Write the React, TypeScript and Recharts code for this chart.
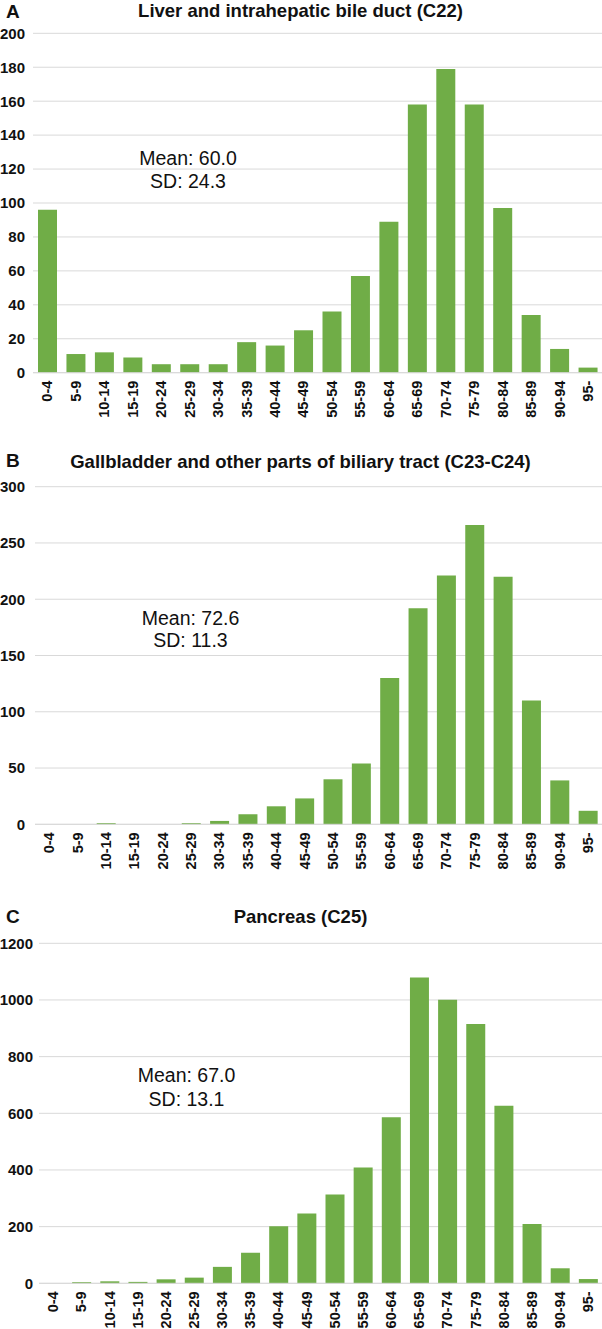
import React from 'react'
import { BarChart, Bar, XAxis, YAxis, CartesianGrid } from 'recharts'

const ageGroups = [
  '0-4', '5-9', '10-14', '15-19', '20-24', '25-29', '30-34', '35-39', '40-44', '45-49',
  '50-54', '55-59', '60-64', '65-69', '70-74', '75-79', '80-84', '85-89', '90-94', '95-'
]

const liverCases = [96, 11, 12, 9, 5, 5, 5, 18, 16, 25, 36, 57, 89, 158, 179, 158, 97, 34, 14, 3]
const gallbladderCases = [0, 0, 1, 0, 0, 1, 3, 9, 16, 23, 40, 54, 130, 192, 221, 266, 220, 110, 39, 12]
const pancreasCases = [0, 4, 7, 5, 14, 20, 58, 108, 201, 246, 313, 409, 586, 1079, 1001, 915, 627, 209, 53, 15]

const liverTicks = [0, 20, 40, 60, 80, 100, 120, 140, 160, 180, 200]
const gallbladderTicks = [0, 50, 100, 150, 200, 250, 300]
const pancreasTicks = [0, 200, 400, 600, 800, 1000, 1200]

const FONT = '"Liberation Sans", Arial, Helvetica, sans-serif'
const GREEN = '#70ad47'
const GRID = '#d9d9d9'
const WIDTH = 602

// layout for each panel (page pixels)
const panels = [
  {
    letter: 'A', title: 'Liver and intrahepatic bile duct (C22)', mean: 'Mean: 60.0', sd: 'SD: 24.3',
    values: liverCases, ticks: liverTicks,
    top: 0, height: 440, plotTop: 33.3, plotBottom: 372.7, plotLeft: 33, tickGap: 8,
    letterY: 17.5, titleY: 16.8, meanX: 188, meanY: 165, sdY: 188.3
  },
  {
    letter: 'B', title: 'Gallbladder and other parts of biliary tract (C23-C24)', mean: 'Mean: 72.6', sd: 'SD: 11.3',
    values: gallbladderCases, ticks: gallbladderTicks,
    top: 440, height: 440, plotTop: 486.7, plotBottom: 824.3, plotLeft: 35, tickGap: 10,
    letterY: 467.3, titleY: 468.3, meanX: 190.5, meanY: 625, sdY: 647.3
  },
  {
    letter: 'C', title: 'Pancreas (C25)', mean: 'Mean: 67.0', sd: 'SD: 13.1',
    values: pancreasCases, ticks: pancreasTicks,
    top: 880, height: 449, plotTop: 943.3, plotBottom: 1283.3, plotLeft: 39, tickGap: 6,
    letterY: 922.7, titleY: 923.3, meanX: 186.5, meanY: 1081.7, sdY: 1106
  }
]

const AgeTick = (props: any) => {
  const { x, y, payload } = props
  return (
    <text
      x={x}
      y={y}
      dy="0.36em"
      transform={`rotate(-90, ${x}, ${y})`}
      textAnchor="end"
      fontFamily={FONT}
      fontSize={14.5}
      fontWeight="bold"
      fill="#111"
    >
      {payload.value}
    </text>
  )
}

function HistogramPanel({ panel }: { panel: typeof panels[number] }) {
  const data = ageGroups.map((age, i) => ({ age, cases: panel.values[i] }))
  const maxTick = panel.ticks[panel.ticks.length - 1]
  return (
    <div style={{ position: 'absolute', left: 0, top: panel.top }}>
      <BarChart
        width={WIDTH}
        height={panel.height}
        data={data}
        margin={{ top: panel.plotTop - panel.top, right: 0, left: 0, bottom: 0 }}
      >
        <CartesianGrid vertical={false} stroke={GRID} />
        <XAxis
          dataKey="age"
          interval={0}
          height={panel.top + panel.height - panel.plotBottom}
          tickLine={false}
          tickSize={0}
          tickMargin={8}
          axisLine={{ stroke: GRID }}
          tick={<AgeTick />}
        />
        <YAxis
          width={panel.plotLeft}
          domain={[0, maxTick]}
          ticks={panel.ticks}
          interval={0}
          tickLine={false}
          axisLine={false}
          tickSize={0}
          tickMargin={panel.tickGap}
          tick={{ fontSize: 15, fontWeight: 'bold', fill: '#111', fontFamily: FONT }}
        />
        <Bar dataKey="cases" fill={GREEN} barSize={19} isAnimationActive={false} />
      </BarChart>
    </div>
  )
}

export default function App() {
  return (
    <div style={{ position: 'absolute', left: 0, top: 0, width: WIDTH, height: 1329, background: '#fff' }}>
      {panels.map((p) => (
        <HistogramPanel key={p.letter} panel={p} />
      ))}
      <svg
        width={WIDTH}
        height={1329}
        style={{ position: 'absolute', left: 0, top: 0, pointerEvents: 'none' }}
        fontFamily={FONT}
      >
        {panels.map((p) => (
          <g key={p.letter}>
            <text x={6} y={p.letterY} fontSize={19} fontWeight="bold" fill="#111">{p.letter}</text>
            <text x={300.5} y={p.titleY} fontSize={18.5} fontWeight="bold" fill="#111" textAnchor="middle">{p.title}</text>
            <text x={p.meanX} y={p.meanY} fontSize={19.5} fill="#111" textAnchor="middle">{p.mean}</text>
            <text x={p.meanX} y={p.sdY} fontSize={19.5} fill="#111" textAnchor="middle">{p.sd}</text>
          </g>
        ))}
      </svg>
    </div>
  )
}
